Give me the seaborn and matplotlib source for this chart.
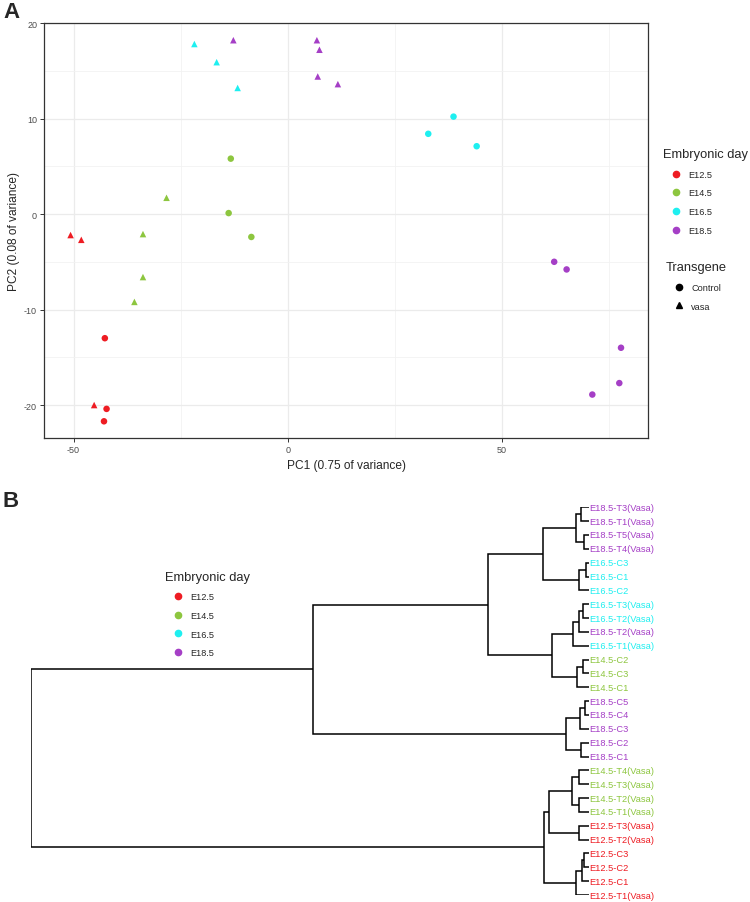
import numpy as np
import pandas as pd
import matplotlib
matplotlib.use("Agg")
import matplotlib.pyplot as plt
from matplotlib.lines import Line2D
from matplotlib.ticker import MultipleLocator
import seaborn as sns

# --- panel A: PCA scores ---
day = (["E12.5"] * 6 + ["E14.5"] * 7 + ["E16.5"] * 6 + ["E18.5"] * 10)
transgene = (["Control"] * 3 + ["vasa"] * 3 +
             ["Control"] * 3 + ["vasa"] * 4 +
             ["Control"] * 3 + ["vasa"] * 3 +
             ["Control"] * 5 + ["vasa"] * 5)
pc1 = [-42.7, -42.3, -42.9, -50.7, -48.2, -45.2,
       -13.3, -13.8, -8.5, -28.3, -33.8, -33.8, -35.8,
       38.7, 32.8, 44.1, -21.8, -16.6, -11.7,
       62.2, 65.1, 77.8, 77.4, 71.1, -12.7, 6.8, 7.4, 7.0, 11.7]
pc2 = [-13.0, -20.4, -21.7, -2.2, -2.7, -20.0,
       5.8, 0.1, -2.4, 1.7, -2.1, -6.6, -9.2,
       10.2, 8.4, 7.1, 17.8, 15.9, 13.2,
       -5.0, -5.8, -14.0, -17.7, -18.9, 18.2, 18.2, 17.2, 14.4, 13.6]

days = ["E12.5", "E14.5", "E16.5", "E18.5"]
day_colors = ["#EE1C23", "#8DC63F", "#1EEFF0", "#A53FC6"]
palette = dict(zip(days, day_colors))
markers = {"Control": "o", "vasa": "^"}

# --- panel B: hierarchical clustering (leaf order as plotted) ---
leaves = ["E18.5-T3(Vasa)", "E18.5-T1(Vasa)", "E18.5-T5(Vasa)", "E18.5-T4(Vasa)",
          "E16.5-C3", "E16.5-C1", "E16.5-C2",
          "E16.5-T3(Vasa)", "E16.5-T2(Vasa)", "E18.5-T2(Vasa)", "E16.5-T1(Vasa)",
          "E14.5-C2", "E14.5-C3", "E14.5-C1",
          "E18.5-C5", "E18.5-C4", "E18.5-C3", "E18.5-C2", "E18.5-C1",
          "E14.5-T4(Vasa)", "E14.5-T3(Vasa)", "E14.5-T2(Vasa)", "E14.5-T1(Vasa)",
          "E12.5-T3(Vasa)", "E12.5-T2(Vasa)",
          "E12.5-C3", "E12.5-C2", "E12.5-C1", "E12.5-T1(Vasa)"]
# hclust-style merges: negative = leaf (1-based), positive = earlier merge
merge_a = [-1, -3, 1, -5, 4, 3, -8, 7, 8, -12, 10, 9, 6, -15, 14, -18, 15, 13,
           -20, -22, 19, -24, 21, -26, 24, 25, 23, 18]
merge_b = [-2, -4, 2, -6, -7, 5, -9, -10, -11, -13, -14, 11, 12, -16, -17, -19, 16, 17,
           -21, -23, 20, -25, 22, -27, -28, -29, 26, 27]
merge_height = [1.49, 0.84, 2.33, 0.54, 1.84, 8.29, 1.13, 1.70, 2.81, 0.99, 2.10, 6.57,
                18.04, 0.68, 1.54, 1.34, 4.16, 49.49, 1.79, 1.79, 3.13, 1.79, 7.11,
                0.81, 1.25, 2.29, 7.97, 100.0]

sns.set_style("white")
plt.rcParams['font.family'] = ['Liberation Sans', 'DejaVu Sans']
plt.rcParams['axes.unicode_minus'] = False

fig = plt.figure(figsize=(7.5, 9.03), dpi=100)

# ---------- A ----------
ax = fig.add_axes([0.0587, 0.5133, 0.8053, 0.4601])
df = pd.DataFrame({"PC1": pc1, "PC2": pc2, "day": day, "Transgene": transgene})
sns.scatterplot(data=df, x="PC1", y="PC2", hue="day", style="Transgene",
                palette=palette, markers=markers, hue_order=days,
                s=22, linewidth=0, legend=False, ax=ax, zorder=3)
ax.set_xlim(-56.9, 84.1)
ax.set_ylim(-23.5, 20.0)
ax.xaxis.set_major_locator(MultipleLocator(50))
ax.xaxis.set_minor_locator(MultipleLocator(25))
ax.yaxis.set_major_locator(MultipleLocator(10))
ax.yaxis.set_minor_locator(MultipleLocator(5))
ax.grid(which="major", color="#EBEBEB", lw=0.9)
ax.grid(which="minor", color="#F2F2F2", lw=0.6)
ax.set_axisbelow(True)
for sp in ax.spines.values():
    sp.set_color("#333333")
    sp.set_linewidth(0.9)
ax.tick_params(which="major", length=3, width=0.7, color="#333333",
               labelsize=6.5, labelcolor="#4D4D4D", pad=2,
               bottom=True, left=True)
ax.tick_params(which="minor", length=0)
ax.set_xlabel("PC1 (0.75 of variance)", fontsize=8.6, labelpad=3)
ax.set_ylabel("PC2 (0.08 of variance)", fontsize=8.6, labelpad=3)

day_handles = [Line2D([], [], marker="o", ls="", color=c, markersize=4.5, label=d)
               for d, c in zip(days, day_colors)]
tg_handles = [Line2D([], [], marker=m, ls="", color="black", markersize=4.5, label=k)
              for k, m in markers.items()]
leg_kw = dict(frameon=False, fontsize=6.6, title_fontsize=9.3, handletextpad=-0.2,
              labelspacing=1.05, borderpad=0, handlelength=3.0, alignment="left")
fig.legend(handles=day_handles, title="Embryonic day", loc="upper left",
           bbox_to_anchor=(0.8775, 0.8398), **leg_kw)
fig.legend(handles=tg_handles, title="Transgene", loc="upper left",
           bbox_to_anchor=(0.881, 0.7145), **leg_kw)

fig.text(0.004, 0.986, "A", fontsize=16, fontweight="bold", va="center")
fig.text(0.004, 0.445, "B", fontsize=16, fontweight="bold", va="center")

# ---------- B ----------
axb = fig.add_axes([0.0409, 0.00775, 0.7444, 0.42935])
n = len(leaves)
node_y, node_h = {}, {}
for i in range(n):
    node_y[-(i + 1)] = i + 1
    node_h[-(i + 1)] = 0.0
for k, (a, b, h) in enumerate(zip(merge_a, merge_b, merge_height), start=1):
    ya, yb = node_y[a], node_y[b]
    axb.plot([node_h[a], h, h, node_h[b]], [ya, ya, yb, yb],
             color="black", lw=1.1, solid_joinstyle="miter", solid_capstyle="butt")
    node_y[k] = (ya + yb) / 2
    node_h[k] = h
for i, lab in enumerate(leaves):
    axb.text(-0.1, i + 1, lab, color=palette[lab[:5]], fontsize=6.7,
             ha="left", va="center", clip_on=False)
axb.set_xlim(100, 0)
axb.set_ylim(n, 1)
axb.axis("off")

fig.legend(handles=day_handles, title="Embryonic day", loc="upper left",
           bbox_to_anchor=(0.2135, 0.372), **leg_kw)

fig.savefig("out.png", dpi=100)
